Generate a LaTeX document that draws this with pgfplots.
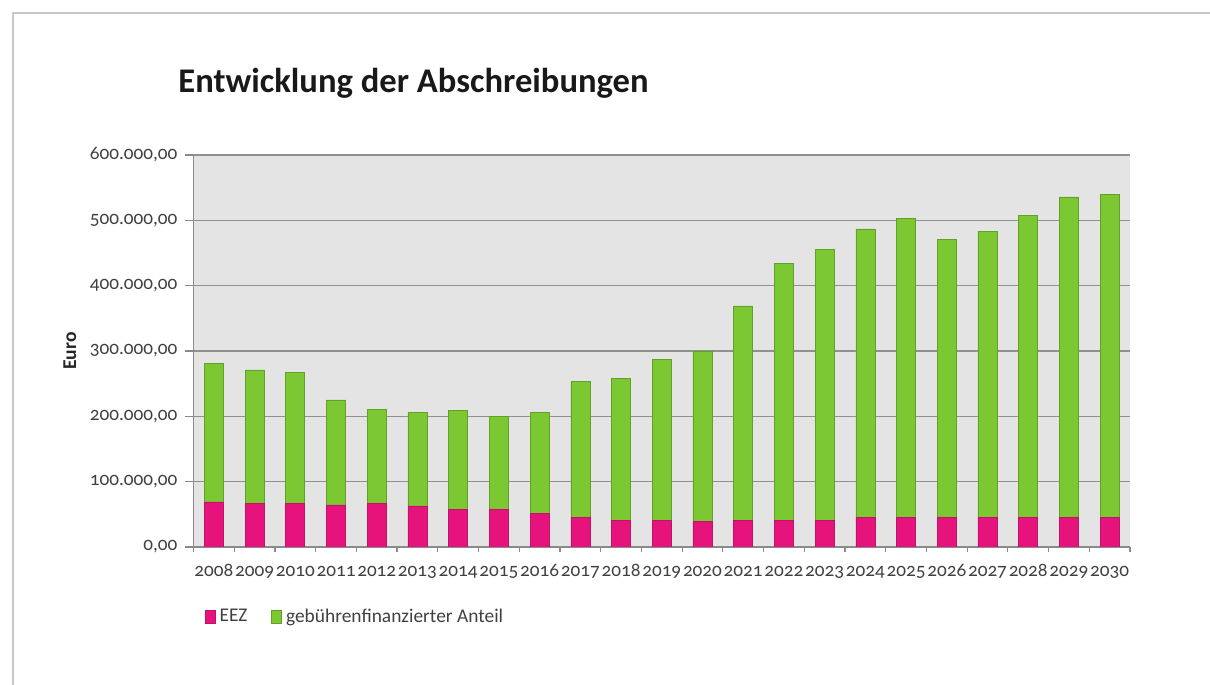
\documentclass[border=0pt]{standalone}
\usepackage{fontspec}
\setmainfont{Carlito}[Numbers=OldStyle]
\usepackage{pgfplots}
\pgfplotsset{compat=1.18}
\definecolor{eez}{HTML}{E5137B}
\definecolor{geb}{HTML}{7CC832}
\definecolor{plotbg}{HTML}{E4E4E4}
\definecolor{gridc}{HTML}{909090}
\definecolor{axisc}{HTML}{8A8A8A}
\definecolor{framec}{HTML}{C8C8C8}
\definecolor{txt}{HTML}{404040}
\begin{document}
\begin{tikzpicture}
\path[use as bounding box] (0,0) rectangle (605pt,342.5pt);
\draw[framec,line width=0.8pt] (6.5pt,0) -- (6.5pt,336pt) -- (605pt,336pt);
\node[anchor=base west,font=\fontsize{17.3}{20}\selectfont\bfseries,inner sep=0,text=black!90] at (89pt,296pt) {Entwicklung der Abschreibungen};
\begin{axis}[
  at={(96.75pt,69pt)}, anchor=south west,
  scale only axis, width=468.25pt, height=196pt,
  ybar stacked, bar width=9.5pt,
  xmin=-0.5, xmax=22.5, ymin=0, ymax=600000,
  xtick={0,...,22},
  xticklabels={2008,2009,2010,2011,2012,2013,2014,2015,2016,2017,2018,2019,2020,2021,2022,2023,2024,2025,2026,2027,2028,2029,2030},
  minor xtick={-0.5,0.5,...,22.5},
  ytick={0,100000,...,600000},
  scaled y ticks=false,
  axis x line*=bottom, axis y line*=left,
  axis line style={-, axisc, line width=0.7pt},
  every outer x axis line/.append style={-},
  every outer y axis line/.append style={-},
  tick align=outside,
  major tick length=4.5pt, minor tick length=2.5pt,
  major x tick style={draw=none},
  tick style={axisc, line width=0.6pt},
  ymajorgrids, grid style={gridc, line width=0.7pt},
  axis background/.style={fill=plotbg},
  /pgf/number format/assume math mode=true,
  yticklabel style={/pgf/number format/.cd, fixed, fixed zerofill, precision=2, use comma, 1000 sep={.}},
  xticklabel style={yshift=0.5pt, text height=7pt, text depth=2pt},
  ticklabel style={font=\fontsize{9.6}{11}\selectfont, text=txt},
  every axis y label/.style={at={(axis description cs:-0.132,0.5)}, rotate=90, anchor=center, font=\fontsize{9.8}{11}\selectfont\bfseries, text=black!85},
  ylabel={Euro},
  legend style={at={(axis description cs:0.0118,-0.179)}, anchor=west, draw=none, fill=none, font=\fontsize{9.7}{11}\selectfont, text=txt, inner sep=0pt, /tikz/every even column/.append style={column sep=10pt}},
  legend columns=2,
  legend image code/.code={\fill[#1] (0pt,-3.2pt) rectangle (5pt,3.2pt);},
]
\addplot[fill=eez, draw=eez!85!black, line width=0.3pt] coordinates {
(0,69000) (1,67000) (2,67000) (3,64500) (4,67000) (5,63000) (6,58000) (7,58000) (8,51500) (9,45500) (10,41000) (11,41000) (12,39000) (13,41000) (14,41000) (15,41000) (16,45500) (17,45500) (18,45500) (19,45500) (20,45500) (21,45500) (22,45500)};
\addplot[fill=geb, draw=geb!80!black, line width=0.3pt] coordinates {
(0,212000) (1,204000) (2,200000) (3,160500) (4,144000) (5,142500) (6,151000) (7,142500) (8,154000) (9,208500) (10,217000) (11,246000) (12,261000) (13,328000) (14,393000) (15,414000) (16,441500) (17,457500) (18,425500) (19,437500) (20,462500) (21,490500) (22,494500)};
\legend{EEZ, gebührenfinanzierter Anteil}
\end{axis}
\end{tikzpicture}
\end{document}
